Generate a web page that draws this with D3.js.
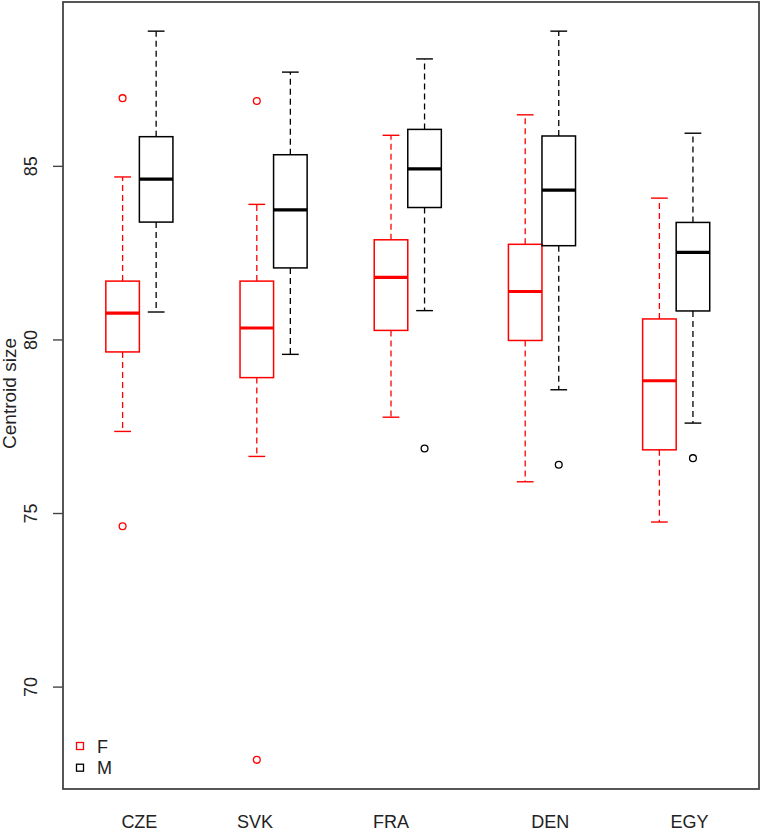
<!DOCTYPE html>
<html>
<head>
<meta charset="utf-8">
<script src="https://cdn.jsdelivr.net/npm/d3@7"></script>
<style>
  body { margin: 0; background: #fff; }
  text { font-family: 'Liberation Sans', Arial, sans-serif; }
</style>
</head>
<body>
<div class="chart"></div>
<script>
// data: [lower whisker, Q1, median, Q3, upper whisker]
const groups = ['CZE', 'SVK', 'FRA', 'DEN', 'EGY'];
const sexes = ['F', 'M'];
const fStats = [
  [77.35, 79.64, 80.76, 81.68, 84.68],
  [76.63, 78.90, 80.33, 81.68, 83.89],
  [77.76, 80.26, 81.79, 82.87, 85.88],
  [75.90, 79.97, 81.38, 82.74, 86.47],
  [74.74, 76.82, 78.81, 80.59, 84.07],
];
const mStats = [
  [80.79, 83.38, 84.62, 85.84, 88.88],
  [79.57, 82.06, 83.73, 85.32, 87.70],
  [80.83, 83.80, 84.91, 86.05, 88.08],
  [78.55, 82.70, 84.30, 85.86, 88.88],
  [77.59, 80.82, 82.51, 83.37, 85.94],
];
const fOut = [[86.95, 74.62], [86.87, 67.89], [], [], []];
const mOut = [[], [], [76.86], [76.39], [76.58]];
const yTicks = [70, 75, 80, 85];
// where the group names sit, in box-position units (like R's at=)
const labelAt = [1.5, 4.95, 9, 13.75, 17.9];

const colors = { F: '#ff0000', M: '#000000' };

const W = 762, H = 832;
const plot = { left: 63, right: 759, top: 2, bottom: 789 };

const svg = d3.select('.chart').append('svg')
  .attr('width', W).attr('height', H)
  .style('display', 'block');

// build box table
const boxes = [];
groups.forEach((g, i) => {
  sexes.forEach((s, j) => {
    const st = s === 'F' ? fStats[i] : mStats[i];
    boxes.push({
      group: g, sex: s, at: 4 * i + 1 + j,
      lo: st[0], q1: st[1], med: st[2], q3: st[3], hi: st[4],
      out: s === 'F' ? fOut[i] : mOut[i],
    });
  });
});

// y range like R: data range + 4%
const allVals = boxes.flatMap((b) => [b.lo, b.hi, ...b.out]);
const [vmin, vmax] = d3.extent(allVals);
const pad = (vmax - vmin) * 0.04;
const y = d3.scaleLinear()
  .domain([vmin - pad, vmax + pad])
  .range([plot.bottom, plot.top]);

// x: box positions
const x = d3.scaleLinear()
  .domain([1, 17])
  .range([122.6, 659.4]);
const unit = x(2) - x(1);
const boxW = unit;
const capW = boxW / 2;

const g = svg.append('g');

// whiskers (dashed)
g.selectAll('line.wlo')
  .data(boxes)
  .enter()
  .append('line')
  .attr('x1', (d) => x(d.at)).attr('x2', (d) => x(d.at))
  .attr('y1', (d) => y(d.q1)).attr('y2', (d) => y(d.lo))
  .attr('stroke', (d) => colors[d.sex])
  .attr('stroke-width', 1.3)
  .attr('stroke-dasharray', '6,4');

g.selectAll('line.whi')
  .data(boxes)
  .enter()
  .append('line')
  .attr('x1', (d) => x(d.at)).attr('x2', (d) => x(d.at))
  .attr('y1', (d) => y(d.q3)).attr('y2', (d) => y(d.hi))
  .attr('stroke', (d) => colors[d.sex])
  .attr('stroke-width', 1.3)
  .attr('stroke-dasharray', '6,4');

// staples
['lo', 'hi'].forEach((k) => {
  g.selectAll(`line.cap${k}`)
    .data(boxes)
    .enter()
    .append('line')
    .attr('x1', (d) => x(d.at) - capW / 2).attr('x2', (d) => x(d.at) + capW / 2)
    .attr('y1', (d) => y(d[k])).attr('y2', (d) => y(d[k]))
    .attr('stroke', (d) => colors[d.sex])
    .attr('stroke-width', 1.4);
});

// boxes
g.selectAll('rect.box')
  .data(boxes)
  .enter()
  .append('rect')
  .attr('x', (d) => x(d.at) - boxW / 2)
  .attr('width', boxW)
  .attr('y', (d) => y(d.q3))
  .attr('height', (d) => y(d.q1) - y(d.q3))
  .attr('fill', 'none')
  .attr('stroke', (d) => colors[d.sex])
  .attr('stroke-width', 1.5);

// medians
g.selectAll('line.med')
  .data(boxes)
  .enter()
  .append('line')
  .attr('x1', (d) => x(d.at) - boxW / 2).attr('x2', (d) => x(d.at) + boxW / 2)
  .attr('y1', (d) => y(d.med)).attr('y2', (d) => y(d.med))
  .attr('stroke', (d) => colors[d.sex])
  .attr('stroke-width', 3.2);

// outliers
const outPts = boxes.flatMap((b) => b.out.map((v) => ({ at: b.at, sex: b.sex, v })));
g.selectAll('circle.out')
  .data(outPts)
  .enter()
  .append('circle')
  .attr('cx', (d) => x(d.at))
  .attr('cy', (d) => y(d.v))
  .attr('r', 3.4)
  .attr('fill', 'none')
  .attr('stroke', (d) => colors[d.sex])
  .attr('stroke-width', 1.3);

// frame
svg.append('rect')
  .attr('x', plot.left).attr('y', plot.top)
  .attr('width', plot.right - plot.left)
  .attr('height', plot.bottom - plot.top)
  .attr('fill', 'none')
  .attr('stroke', '#444')
  .attr('stroke-width', 1.8);

// y axis
const yAxis = svg.append('g')
  .attr('transform', `translate(${plot.left},0)`)
  .call(d3.axisLeft(y).tickValues(yTicks).tickSize(10).tickPadding(0).tickFormat(d3.format('d')));
yAxis.select('.domain').remove();
yAxis.selectAll('line').attr('stroke', '#444').attr('stroke-width', 1.4);
yAxis.selectAll('text')
  .attr('x', 0).attr('dy', null).attr('y', 0)
  .attr('transform', 'translate(-26,0) rotate(-90)')
  .attr('text-anchor', 'middle')
  .style('font-size', '18px')
  .attr('fill', '#222');

svg.append('text')
  .attr('transform', `translate(16,${(plot.top + plot.bottom) / 2 - 2}) rotate(-90)`)
  .attr('text-anchor', 'middle')
  .style('font-size', '19px')
  .attr('fill', '#222')
  .text('Centroid size');

// x labels
svg.selectAll('text.xlab')
  .data(groups)
  .enter()
  .append('text')
  .attr('class', 'xlab')
  .attr('x', (d, i) => x(labelAt[i]))
  .attr('y', 828)
  .attr('text-anchor', 'middle')
  .style('font-size', '18px')
  .attr('fill', '#222')
  .text((d) => d);

// legend
const leg = svg.append('g').attr('transform', `translate(80,${plot.bottom - 43})`);
sexes.forEach((s, i) => {
  leg.append('rect')
    .attr('x', -3.5).attr('y', i * 21.7 - 3.5)
    .attr('width', 7).attr('height', 7)
    .attr('fill', 'none')
    .attr('stroke', colors[s])
    .attr('stroke-width', 1.3);
  leg.append('text')
    .attr('x', 17).attr('y', i * 21.7 + 6.5)
    .style('font-size', '18px')
    .attr('fill', '#222')
    .text(s);
});
</script>
</body>
</html>
